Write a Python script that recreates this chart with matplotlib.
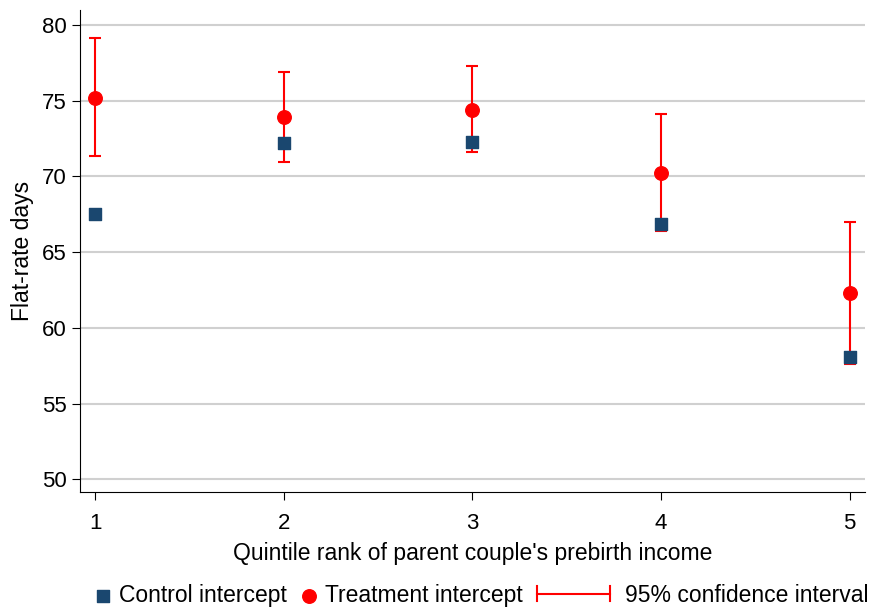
import numpy as np
import matplotlib
matplotlib.use("Agg")
import matplotlib.pyplot as plt
from matplotlib.lines import Line2D
from matplotlib.legend_handler import HandlerBase
from matplotlib.container import ErrorbarContainer

plt.rcParams['font.family'] = ['Liberation Sans', 'DejaVu Sans']

quintile = [1, 2, 3, 4, 5]
control = [67.5, 72.2, 72.3, 66.85, 58.1]
treatment = [75.2, 73.9, 74.4, 70.2, 62.3]
ci_low = [71.35, 70.95, 71.6, 66.4, 57.6]
ci_high = [79.15, 76.9, 77.3, 74.1, 67.0]

treatment = np.array(treatment)
yerr = [treatment - np.array(ci_low), np.array(ci_high) - treatment]


class HandlerCI(HandlerBase):
    # horizontal line with a cap at each end, like the Stata legend key
    def create_artists(self, legend, orig, xdescent, ydescent, width, height,
                       fontsize, trans):
        y = height / 2 - ydescent
        x0, x1 = -xdescent, width - xdescent
        c = 0.45 * height
        arts = [Line2D([x0, x1], [y, y]),
                Line2D([x0, x0], [y - c, y + c]),
                Line2D([x1, x1], [y - c, y + c])]
        for a in arts:
            a.set_color('red')
            a.set_linewidth(1.5)
            a.set_transform(trans)
        return arts


fig = plt.figure(figsize=(8.69, 6.13), dpi=100)
ax = fig.add_axes([0.092, 0.197, 0.903, 0.787])

sc1 = ax.scatter(quintile, control, marker='s', s=85, color='#1a476f', zorder=3)
sc2 = ax.scatter(quintile, treatment, marker='o', s=95, color='red', zorder=4)
eb = ax.errorbar(quintile, treatment, yerr=yerr, fmt='none', ecolor='red',
                 elinewidth=1.5, capsize=4, capthick=1.5, zorder=2)

ax.set_xlim(0.92, 5.08)
ax.set_ylim(49.14, 81.0)
ax.set_xticks(quintile)
ax.set_yticks([50, 55, 60, 65, 70, 75, 80])
ax.yaxis.grid(True, color='#d0d0d0', linewidth=1.5)
ax.set_axisbelow(True)
for s in ['top', 'right']:
    ax.spines[s].set_visible(False)
ax.tick_params(labelsize=16, length=6)
ax.tick_params(axis='x', pad=9)
ax.set_xlabel("Quintile rank of parent couple's prebirth income", fontsize=16.5,
              labelpad=6)
ax.set_ylabel("Flat-rate days", fontsize=16.5, labelpad=6)

entries = [(sc1, 'Control intercept', 0.109, 0.75, 0.3, None),
           (sc2, 'Treatment intercept', 0.346, 0.75, 0.3, None),
           (eb, '95% confidence interval', 0.618, 3.2, 0.65, {ErrorbarContainer: HandlerCI()})]
for h, lab, x, hl, tp, hm in entries:
    fig.legend([h], [lab], loc='center left', bbox_to_anchor=(x, 0.029),
               frameon=False, fontsize=16.5, handletextpad=tp, borderpad=0,
               borderaxespad=0, handlelength=hl, scatterpoints=1, handler_map=hm)

fig.savefig('out.png', dpi=100)
